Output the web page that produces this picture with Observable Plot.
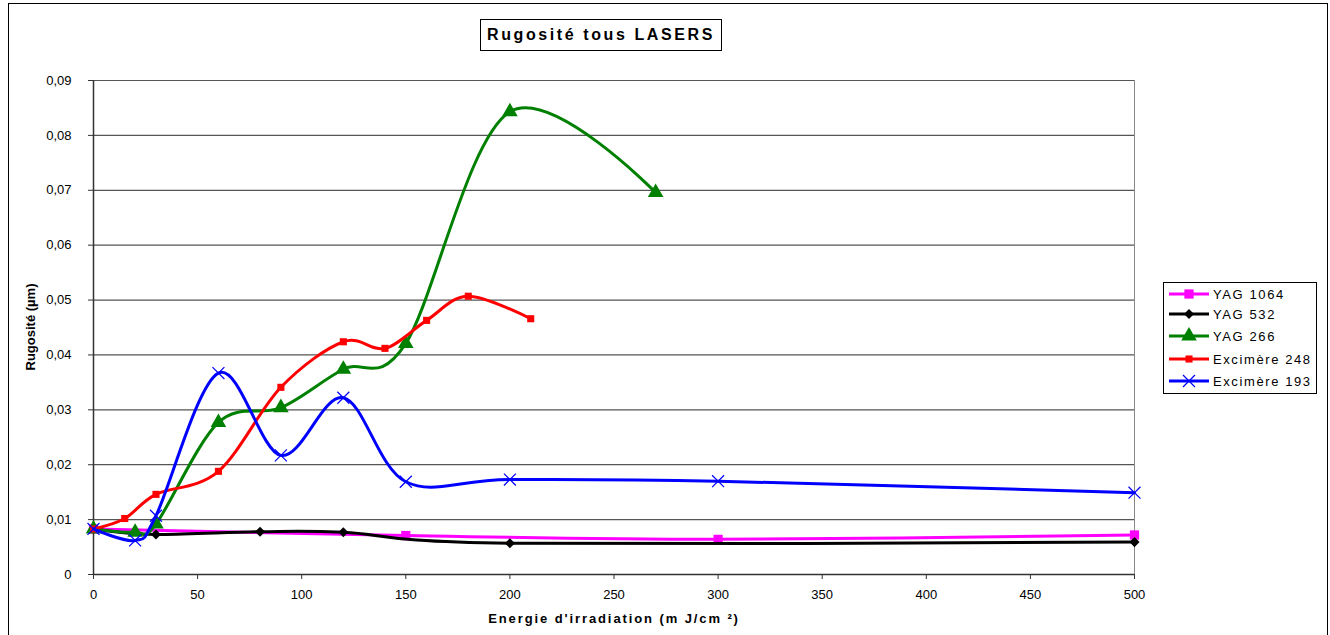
<!DOCTYPE html>
<html>
<head>
<meta charset="utf-8">
<script src="https://cdn.jsdelivr.net/npm/d3@7"></script>
<script src="https://cdn.jsdelivr.net/npm/@observablehq/plot@0.6"></script>
<style>
  body { margin: 0; background: #fff; font-family: "Liberation Sans", Arial, sans-serif; }
  #wrap { position: relative; width: 1330px; height: 635px; overflow: hidden; }
  #frame { position: absolute; left: 8px; top: 3px; width: 1318px; height: 640px; border: 1.5px solid #000; }
  #title { position: absolute; left: 480px; top: 19px; width: 240px; height: 30px; border: 1px solid #000;
           font-weight: bold; font-size: 16px; letter-spacing: 2.6px; text-align: center; line-height: 30px; background:#fff; }
  #ylab { position: absolute; left: 30px; top: 327px; transform: translate(-50%,-50%) rotate(-90deg);
          font-weight: bold; font-size: 13px; white-space: nowrap; }
  #xlab { position: absolute; left: 614px; top: 618px; transform: translate(-50%,-50%);
          font-weight: bold; font-size: 13px; letter-spacing: 1.9px; white-space: nowrap; }
  #legend { position: absolute; left: 1163px; top: 282px; width: 152px; height: 110px; border: 1px solid #000; background:#fff; }
  .lrow { position: absolute; left: 4px; height: 20px; display: flex; align-items: center; font-size: 13px; letter-spacing: 1.6px; }
  .lrow svg { margin-right: 3px; }
  svg.plot { position: absolute; left: 0; top: 0; }
  svg.plot g[aria-label="y-axis tick label"] text,
  svg.plot g[aria-label="x-axis tick label"] text { letter-spacing: 0.8px; }
</style>
</head>
<body>
<div id="wrap">
  <div id="chart"></div>
  <div id="frame"></div>
  <div id="title">Rugosité tous LASERS</div>
  <div id="ylab">Rugosité (µm)</div>
  <div id="xlab">Energie d'irradiation (m J/cm ²)</div>
  <div id="legend"></div>
</div>
<script>
// ---- Data ----
const seriesNames = ["YAG 1064", "YAG 532", "YAG 266", "Excimère 248", "Excimère 193"];
const seriesColors = ["#ff00ff", "#000000", "#008000", "#ff0000", "#0000ff"];

const yag1064X = [0, 150, 300, 500];
const yag1064Y = [0.0083, 0.0071, 0.0064, 0.0072];

const yag532X = [0, 30, 80, 120, 200, 500];
const yag532Y = [0.0083, 0.0073, 0.0078, 0.0077, 0.0057, 0.0059];

const yag266X = [0, 20, 30, 60, 90, 120, 150, 200, 270];
const yag266Y = [0.0083, 0.0077, 0.0092, 0.0277, 0.0304, 0.0374, 0.0421, 0.0843, 0.0696];

const exc248X = [0, 15, 30, 60, 90, 120, 140, 160, 180, 210];
const exc248Y = [0.0083, 0.0102, 0.0146, 0.0188, 0.0341, 0.0424, 0.0412, 0.0463, 0.0507, 0.0466];

const exc193X = [0, 20, 30, 60, 90, 120, 150, 200, 300, 500];
const exc193Y = [0.0083, 0.0062, 0.0107, 0.0367, 0.0217, 0.0322, 0.0169, 0.0173, 0.0170, 0.0149];

const xTicks = [0, 50, 100, 150, 200, 250, 300, 350, 400, 450, 500];
const yTicks = [0, 0.01, 0.02, 0.03, 0.04, 0.05, 0.06, 0.07, 0.08, 0.09];

// ---- Build table ----
const xs = [yag1064X, yag532X, yag266X, exc248X, exc193X];
const ys = [yag1064Y, yag532Y, yag266Y, exc248Y, exc193Y];
const rows = [];
seriesNames.forEach((s, i) => xs[i].forEach((x, j) => rows.push({series: s, x, y: ys[i][j]})));
const bySeries = s => rows.filter(d => d.series === s);

const yFmt = d => d === 0 ? "0" : d.toFixed(2).replace(".", ",");

const markers = [
  {symbol: "square", r: 5.2, fill: true},
  {symbol: "square", r: 4, fill: true, rotate: 45},
  {symbol: "triangle", r: 5.8, fill: true},
  {symbol: "square", r: 4, fill: true},
  {symbol: "times", r: 5.5, fill: false}
];

const marks = [
  Plot.ruleY(yTicks.filter(d => d > 0), {stroke: "#555", strokeWidth: 1.2}),
  Plot.ruleX([500], {stroke: "#888", strokeWidth: 1}),
  Plot.ruleY([0], {stroke: "#333", strokeWidth: 1.5}),
  Plot.ruleX([0], {stroke: "#333", strokeWidth: 1.5}),
  Plot.axisY({ticks: yTicks, tickFormat: yFmt, tickSize: 5, tickPadding: 17, label: null, fontSize: 13, stroke: "#333"}),
  Plot.axisX({ticks: xTicks, tickFormat: d => String(d), tickSize: 5, tickPadding: 10, label: null, fontSize: 13, stroke: "#333"})
];
seriesNames.forEach((s, i) => {
  marks.push(Plot.line(bySeries(s), {x: "x", y: "y", stroke: seriesColors[i], strokeWidth: 3, curve: "cardinal", tension: 0}));
  const m = markers[i];
  marks.push(Plot.dot(bySeries(s), {
    x: "x", y: "y", symbol: m.symbol, r: m.r, rotate: m.rotate || 0,
    fill: m.fill ? seriesColors[i] : "none",
    stroke: m.fill ? "none" : seriesColors[i], strokeWidth: 1.2
  }));
});

const chart = Plot.plot({
  width: 1330, height: 635,
  marginLeft: 93, marginRight: 196, marginTop: 80, marginBottom: 61,
  x: {domain: [0, 500]},
  y: {domain: [0, 0.09]},
  style: {fontFamily: "Liberation Sans, Arial, sans-serif", fontSize: "13px", color: "#000", background: "transparent"},
  marks
});
document.getElementById("chart").appendChild(chart);

// ---- Legend ----
const legend = document.getElementById("legend");
const rowTops = [1, 21, 43, 66, 88];
seriesNames.forEach((s, i) => {
  const row = document.createElement("div");
  row.className = "lrow";
  row.style.top = rowTops[i] + "px";
  const svg = d3.create("svg").attr("width", 42).attr("height", 20);
  svg.append("line").attr("x1", 1).attr("x2", 41).attr("y1", 10).attr("y2", 10)
     .attr("stroke", seriesColors[i]).attr("stroke-width", 3);
  const m = markers[i];
  const sym = {square: d3.symbolSquare, triangle: d3.symbolTriangle, times: d3.symbolTimes}[m.symbol];
  svg.append("path").attr("d", d3.symbol(sym, Math.PI * m.r * m.r)())
     .attr("transform", `translate(21,10) rotate(${m.rotate || 0})`)
     .attr("fill", m.fill ? seriesColors[i] : "none")
     .attr("stroke", m.fill ? "none" : seriesColors[i]).attr("stroke-width", 1.2);
  row.appendChild(svg.node());
  const t = document.createElement("span");
  t.textContent = s;
  row.appendChild(t);
  legend.appendChild(row);
});
</script>
</body>
</html>
